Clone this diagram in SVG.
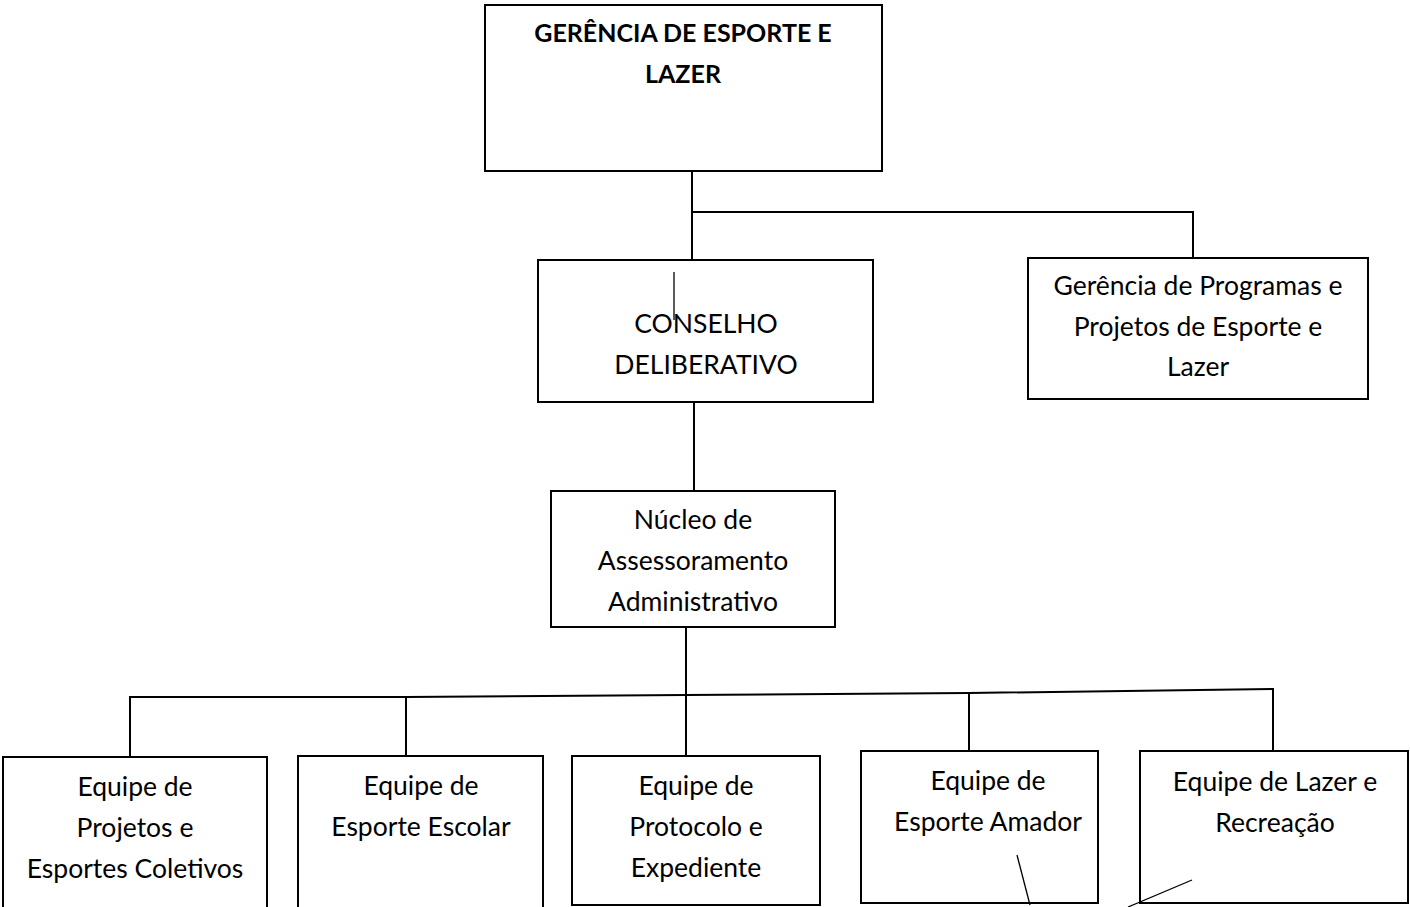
<svg xmlns="http://www.w3.org/2000/svg" width="1410" height="907" viewBox="0 0 1410 907">
<style>
.box{fill:#fff;stroke:#000;stroke-width:2}
.t{font-family:Lato,"Open Sans",sans-serif;font-size:26.5px;fill:#000;text-anchor:middle}
.b{font-weight:bold;font-size:25px}
.c{fill:none;stroke:#000;stroke-width:2}
.s{fill:none;stroke:#000;stroke-width:1.3}
</style>
<rect width="1410" height="907" fill="#fff"/>
<g id="connectors">
<polyline class="c" points="692,171 692,259"/>
<polyline class="c" points="692,212 1193,212 1193,257"/>
<polyline class="c" points="694,402 694,491"/>
<polyline class="c" points="686,627 686,756"/>
<polyline class="c" points="130,757 130,697 406,697 686,695 969,693 1273,689 1273,751"/>
<polyline class="c" points="406,697 406,756"/>
<polyline class="c" points="969,693 969,751"/>
</g>
<g id="gerencia">
<rect class="box" x="485" y="5" width="397" height="166"/>
<text class="t b" x="683" y="42">GERÊNCIA DE ESPORTE E</text>
<text class="t b" x="683" y="83">LAZER</text>
</g>
<g id="conselho">
<rect class="box" x="538" y="260" width="335" height="142"/>
<text class="t" x="706" y="333">CONSELHO</text>
<text class="t" x="706" y="374">DELIBERATIVO</text>
<line class="s" x1="674" y1="272" x2="674" y2="320"/>
</g>
<g id="gerencia-programas">
<rect class="box" x="1028" y="258" width="340" height="141"/>
<text class="t" x="1198" y="295">Gerência de Programas e</text>
<text class="t" x="1198" y="336">Projetos de Esporte e</text>
<text class="t" x="1198" y="376">Lazer</text>
</g>
<g id="nucleo">
<rect class="box" x="551" y="491" width="284" height="136"/>
<text class="t" x="693" y="529">Núcleo de</text>
<text class="t" x="693" y="570">Assessoramento</text>
<text class="t" x="693" y="611">Administrativo</text>
</g>
<g id="equipe-projetos">
<rect class="box" x="3" y="757" width="264" height="160"/>
<text class="t" x="135" y="796">Equipe de</text>
<text class="t" x="135" y="837">Projetos e</text>
<text class="t" x="135" y="878">Esportes Coletivos</text>
</g>
<g id="equipe-escolar">
<rect class="box" x="298" y="756" width="245" height="160"/>
<text class="t" x="421" y="795">Equipe de</text>
<text class="t" x="421" y="836">Esporte Escolar</text>
</g>
<g id="equipe-protocolo">
<rect class="box" x="572" y="756" width="248" height="149"/>
<text class="t" x="696" y="795">Equipe de</text>
<text class="t" x="696" y="836">Protocolo e</text>
<text class="t" x="696" y="877">Expediente</text>
</g>
<g id="equipe-amador">
<rect class="box" x="861" y="751" width="237" height="152"/>
<line class="s" x1="1017" y1="855" x2="1030" y2="905"/>
<text class="t" x="988" y="790">Equipe de</text>
<text class="t" x="988" y="831">Esporte Amador</text>
</g>
<g id="equipe-lazer">
<rect class="box" x="1140" y="751" width="268" height="152"/>
<line class="s" x1="1192" y1="880" x2="1128" y2="907"/>
<text class="t" x="1275" y="791">Equipe de Lazer e</text>
<text class="t" x="1275" y="832">Recreação</text>
</g>
</svg>
